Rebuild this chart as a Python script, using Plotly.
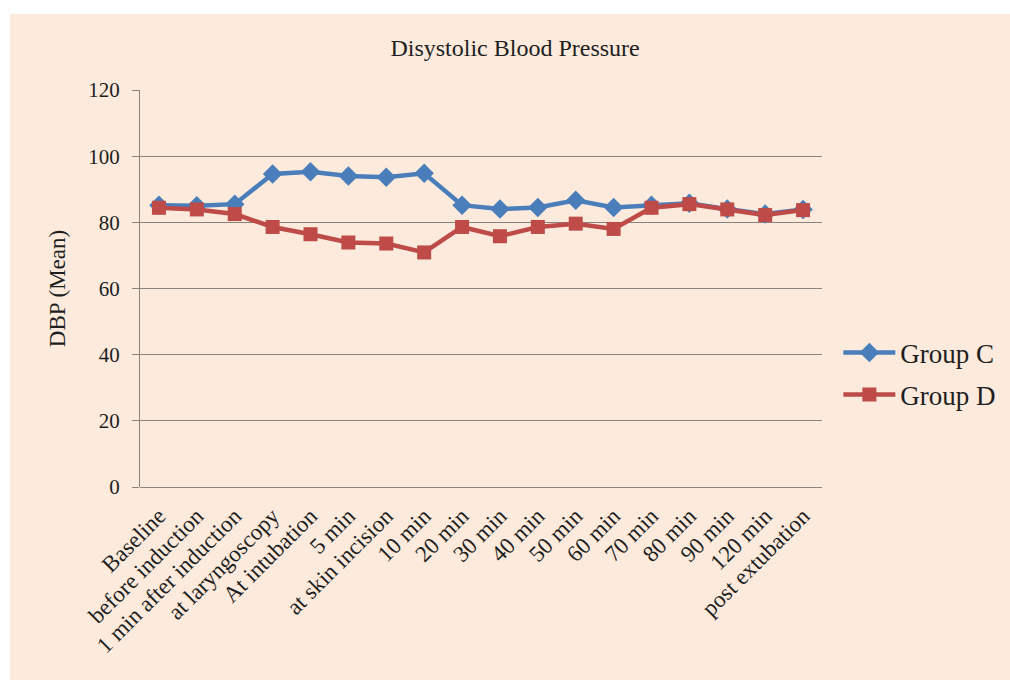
import plotly.graph_objects as go

categories = [
    "Baseline", "before induction", "1 min after induction", "at laryngoscopy",
    "At intubation", "5 min", "at skin incision", "10 min", "20 min", "30 min",
    "40 min", "50 min", "60 min", "70 min", "80 min", "90 min", "120 min",
    "post extubation",
]
group_c = [85.2, 85.0, 85.5, 94.6, 95.3, 94.0, 93.6, 94.8, 85.2, 84.0,
           84.5, 86.7, 84.5, 85.2, 85.8, 84.0, 82.5, 83.9]
group_d = [84.4, 83.9, 82.5, 78.6, 76.4, 73.9, 73.6, 70.9, 78.6, 75.8,
           78.6, 79.6, 78.0, 84.4, 85.5, 83.9, 82.2, 83.7]
y_ticks = [0, 20, 40, 60, 80, 100, 120]

PEACH = "#FCEADC"
GRID = "#8A827C"
TEXT = "#1E1E1E"
SERIF = "Liberation Serif, DejaVu Serif, serif"

x_idx = list(range(len(categories)))

fig = go.Figure()
fig.add_trace(go.Scatter(
    x=x_idx, y=group_c, name="Group C", mode="lines+markers", legendgroup="c",
    line=dict(color="#4A7EBB", width=4.5),
    marker=dict(symbol="diamond", size=15, color="#4A7EBB"),
))
fig.add_trace(go.Scatter(
    x=x_idx, y=group_d, name="Group D", mode="lines+markers", legendgroup="d",
    line=dict(color="#BE4B48", width=4.5),
    marker=dict(symbol="square", size=14, color="#BE4B48"),
))

fig.update_layout(
    width=1010, height=684,
    margin=dict(l=140, r=188, t=90, b=197, autoexpand=False),
    paper_bgcolor="white",
    plot_bgcolor=PEACH,
    font=dict(family=SERIF, color=TEXT),
    title=dict(text="Disystolic Blood Pressure", x=0.51, xref="container",
               y=0.931, yref="container", xanchor="center", yanchor="middle",
               font=dict(size=24, family=SERIF, color=TEXT)),
    showlegend=True,
    legend=dict(x=1.024, xanchor="left", y=0.285, yanchor="middle",
                bgcolor="rgba(0,0,0,0)", font=dict(size=27, family=SERIF, color=TEXT),
                itemwidth=52, tracegroupgap=4),
    shapes=[dict(type="rect", xref="paper", yref="paper",
                 x0=(10 - 140) / 682, x1=(1012 - 140) / 682,
                 y0=(487 - 680) / 397, y1=(487 - 14) / 397,
                 fillcolor=PEACH, line=dict(width=0), layer="below")],
)

fig.update_xaxes(
    tickmode="array", tickvals=x_idx, ticktext=categories,
    tickangle=-45, range=[-0.5, len(categories) - 0.5],
    tickfont=dict(size=23, family=SERIF, color=TEXT),
    showgrid=False, showline=False, zeroline=False, ticks="",
    ticklabelstandoff=10, automargin=False,
)
fig.update_yaxes(
    range=[0, 120], tickvals=y_ticks,
    tickfont=dict(size=21, family=SERIF, color=TEXT),
    showgrid=True, gridcolor=GRID, gridwidth=1,
    showline=True, linecolor=GRID, linewidth=1,
    ticks="outside", ticklen=7, tickcolor=GRID, ticklabelstandoff=8,
    zeroline=True, zerolinecolor=GRID, zerolinewidth=1,
    title=dict(text="DBP (Mean)", font=dict(size=23, family=SERIF, color=TEXT), standoff=16),
    automargin=False,
)

fig.write_html("out.html")
